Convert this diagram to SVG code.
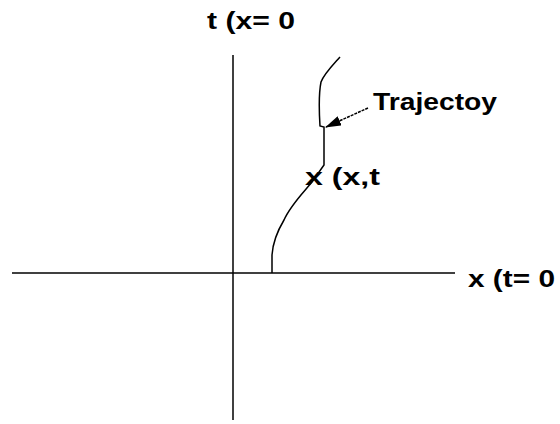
<svg xmlns="http://www.w3.org/2000/svg" width="560" height="424" viewBox="0 0 560 424">
<style>
.ax{stroke:#000;stroke-width:1.5;fill:none}
.tr{stroke:#000;stroke-width:1.5;fill:none}
.lbl{font-family:"Liberation Sans",Arial,sans-serif;font-weight:bold;font-size:23px;fill:#000}
</style>
<defs>
<marker id="ah" viewBox="0 0 16 10" refX="15" refY="5" markerWidth="16" markerHeight="10" markerUnits="userSpaceOnUse" orient="auto">
<path d="M0,0 L16,5 L0,10 Z" fill="#000"/>
</marker>
</defs>
<rect width="560" height="424" fill="#fff"/>
<g id="axes">
<line class="ax" x1="233" y1="55" x2="233" y2="420"/>
<line class="ax" x1="12" y1="273" x2="455" y2="273"/>
</g>
<g id="t-label"><text class="lbl" x="207" y="29" textLength="88" lengthAdjust="spacingAndGlyphs">t (x= 0</text></g>
<g id="x-label"><text class="lbl" x="468" y="287" textLength="87" lengthAdjust="spacingAndGlyphs">x (t= 0</text></g>
<g id="trajectory">
<path class="tr" d="M340,57 C332,66 324,74 321,82 C319,92 319,110 320,126 L324,127 L324,165 L312,182 C302,194 290,206 284,220 C278,230 273,240 272,255 L272,273"/>
</g>
<g id="traj-label"><text class="lbl" x="373" y="110" textLength="124" lengthAdjust="spacingAndGlyphs">Trajectoy</text></g>
<g id="point-label"><text class="lbl" x="305" y="185" textLength="75" lengthAdjust="spacingAndGlyphs">x (x,t</text></g>
<g id="connectors">
<line x1="368" y1="108" x2="326" y2="127" stroke="#000" stroke-width="1.5" stroke-dasharray="3,1" marker-end="url(#ah)"/>
</g>
</svg>
